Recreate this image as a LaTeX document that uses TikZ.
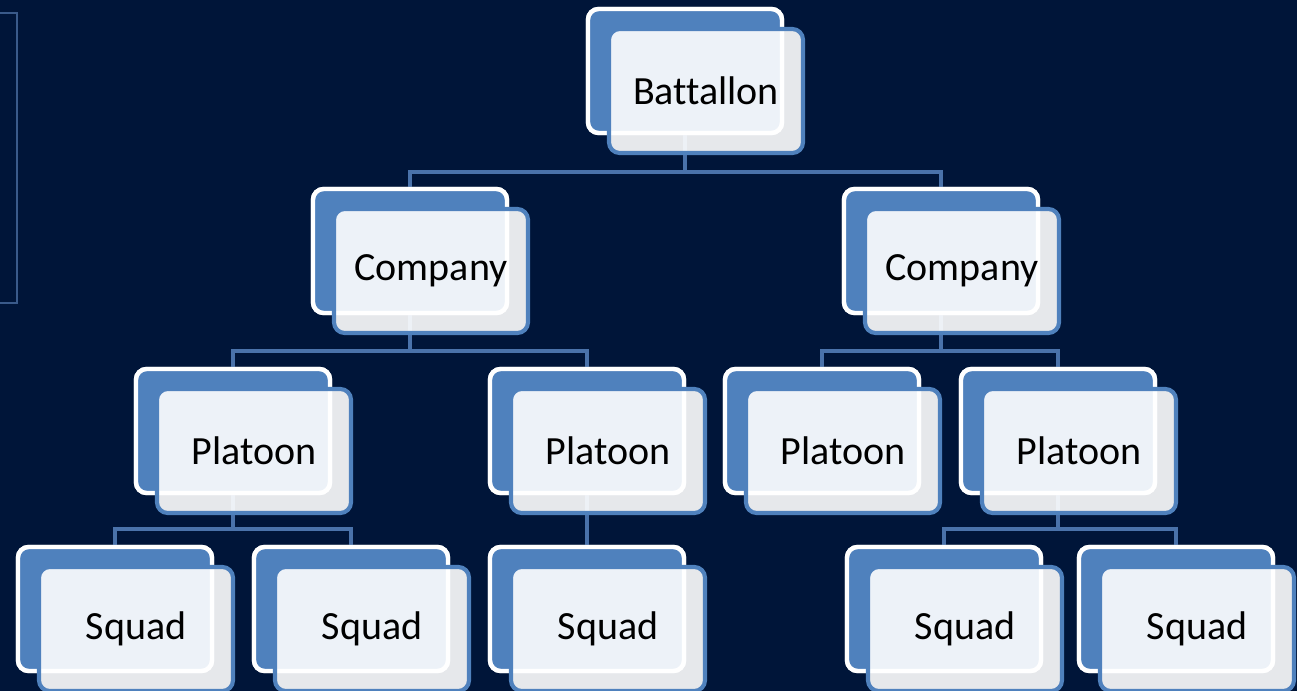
\documentclass[tikz,border=0pt]{standalone}
\usepackage{fontspec}
\setmainfont{Carlito}[Ligatures=NoCommon]
\definecolor{navy}{RGB}{0,21,57}
\definecolor{boxblue}{RGB}{79,129,189}
\definecolor{linkblue}{RGB}{74,114,170}
\definecolor{framegrey}{RGB}{58,90,138}
\tikzset{
  back/.style={draw=white,fill=boxblue,line width=3.3pt,rounded corners=8pt,
    minimum width=145.5pt,minimum height=93pt,inner sep=0pt},
  front/.style={draw=boxblue,fill=white,fill opacity=0.9,text opacity=1,
    line width=3.1pt,rounded corners=8pt,minimum width=145.5pt,minimum height=93pt,
    inner sep=0pt,font=\fontsize{30}{35}\selectfont},
  link/.style={draw=linkblue,line width=3.6pt}
}
\begin{document}
\begin{tikzpicture}[x=0.75pt,y=-0.75pt]
  \clip (0,0) rectangle (1297,691);
  \useasboundingbox (0,0) rectangle (1297,691);
  \fill[navy] (0,0) rectangle (1297,691);
  \draw[framegrey,line width=1.1pt] (-10,13) rectangle (17,303);
  % rows where the connectors run
  \coordinate (j1) at (0,172);
  \coordinate (j2) at (0,351);
  \coordinate (j3) at (0,529);
  % back boxes
  \node[back] (batb) at (685,71) {};
  \node[back] (comlb) at (410,251) {};
  \node[back] (comrb) at (941,251) {};
  \node[back] (plaab) at (233,431) {};
  \node[back] (plabb) at (587,431) {};
  \node[back] (placb) at (822,431) {};
  \node[back] (pladb) at (1058,431) {};
  \node[back] (squab) at (115,609) {};
  \node[back] (squbb) at (351,609) {};
  \node[back] (squcb) at (587,609) {};
  \node[back] (squdb) at (944,609) {};
  \node[back] (squeb) at (1176,609) {};
  % connectors
  \draw[link] (batb.south) -- (batb |- j1) -| (comlb.north);
  \draw[link] (batb |- j1) -| (comrb.north);
  \draw[link] (comlb.south) -- (comlb |- j2) -| (plaab.north);
  \draw[link] (comlb |- j2) -| (plabb.north);
  \draw[link] (comrb.south) -- (comrb |- j2) -| (placb.north);
  \draw[link] (comrb |- j2) -| (pladb.north);
  \draw[link] (plaab.south) -- (plaab |- j3) -| (squab.north);
  \draw[link] (plaab |- j3) -| (squbb.north);
  \draw[link] (plabb.south) -- (squcb.north);
  \draw[link] (pladb.south) -- (pladb |- j3) -| (squdb.north);
  \draw[link] (pladb |- j3) -| (squeb.north);
  % redraw back boxes over the connectors
  \foreach \b in {batb,comlb,comrb,plaab,plabb,placb,pladb,squab,squbb,squcb,squdb,squeb}
    \node[back] at (\b) {};
  % front boxes
  \node[front] (bat) at ([shift={(21,20)}]batb.center) {Battallon};
  \node[front] (coml) at ([shift={(21,20)}]comlb.center) {Company};
  \node[front] (comr) at ([shift={(21,20)}]comrb.center) {Company};
  \node[front] (plaa) at ([shift={(21,20)}]plaab.center) {Platoon};
  \node[front] (plab) at ([shift={(21,20)}]plabb.center) {Platoon};
  \node[front] (plac) at ([shift={(21,20)}]placb.center) {Platoon};
  \node[front] (plad) at ([shift={(21,20)}]pladb.center) {Platoon};
  \node[front] (squa) at ([shift={(21,20)}]squab.center) {Squad};
  \node[front] (squb) at ([shift={(21,20)}]squbb.center) {Squad};
  \node[front] (squc) at ([shift={(21,20)}]squcb.center) {Squad};
  \node[front] (squd) at ([shift={(21,20)}]squdb.center) {Squad};
  \node[front] (sque) at ([shift={(21,20)}]squeb.center) {Squad};
\end{tikzpicture}
\end{document}
